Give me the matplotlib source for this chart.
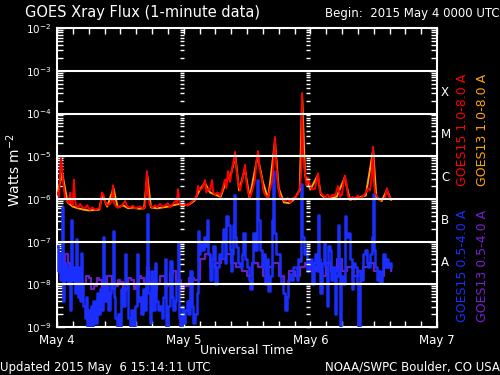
import numpy as np
import matplotlib
matplotlib.use('Agg')
import matplotlib.pyplot as plt
from matplotlib.ticker import FixedLocator, NullFormatter

# time in hours from 2015 May 4 00:00 UTC, flux as log10(W m^-2)
goes15_long_hours = [0.0, 0.4, 0.6, 0.76, 0.95, 1.14, 1.35, 1.52, 1.9, 2.3, 2.5, 2.7, 3.0, 3.2, 3.4, 3.6,
                     4.0, 4.4, 4.8, 5.3, 5.7, 6.2, 6.7, 7.2, 7.7, 8.15, 8.5, 8.8, 9.1, 9.5, 10.0, 10.4,
                     10.6, 10.8, 11.2, 11.9, 12.5, 12.9, 13.3, 13.8, 14.4, 14.8, 15.3, 15.7, 16.2, 16.7,
                     16.9, 17.05, 17.25, 17.6, 18.1, 18.6, 19.0, 19.5, 20.0, 20.5, 21.0, 21.4, 21.9, 22.36,
                     22.7, 22.93, 23.1, 23.3, 23.8, 24.25, 24.7, 25.2, 25.7, 26.15, 26.5, 26.72, 27.1, 27.5,
                     28.04, 28.3, 28.7, 29.0, 29.37, 29.6, 29.94, 30.4, 30.9, 31.3, 31.83, 32.1, 32.4, 32.8,
                     33.16, 33.5, 33.73, 34.0, 34.3, 34.68, 35.2, 35.62, 35.9, 36.2, 36.57, 37.0, 37.5, 37.8,
                     38.1, 38.4, 38.85, 39.1, 39.4, 39.98, 40.3, 40.74, 41.0, 41.3, 41.5, 41.88, 42.26, 42.7,
                     43.2, 43.7, 44.15, 44.6, 45.1, 45.6, 46.05, 46.3, 46.43, 46.6, 47.0, 47.3, 47.56, 48.0,
                     48.3, 48.9, 49.2, 49.46, 49.84, 50.3, 50.8, 51.3, 51.73, 52.2, 52.68, 53.25, 53.63, 54.0,
                     54.3, 54.57, 54.9, 55.14, 55.52, 56.0, 56.47, 57.0, 57.4, 57.9, 58.36, 58.9, 59.3, 59.6,
                     59.88, 60.05, 60.26, 60.7, 61.2, 61.7, 62.15, 62.5, 62.8, 63.1, 63.3]
goes15_long = [-5.85, -5.95, -5.3, -5.05, -5.3, -5.6, -5.8, -5.97, -6.05, -6.1, -5.85, -6.1, -6.15, -5.55, -6.0, -6.15,
               -6.2, -6.12, -6.2, -6.22, -6.15, -6.25, -6.2, -6.25, -6.23, -6.22, -5.85, -5.9, -6.05, -6.15, -6.12, -6.05,
               -5.68, -6.1, -6.18, -6.2, -6.12, -6.05, -6.18, -6.2, -6.16, -6.22, -6.2, -6.18, -6.22, -6.2,
               -5.6, -5.35, -5.9, -6.15, -6.2, -6.15, -6.2, -6.12, -6.18, -6.15, -6.1, -6.2, -6.12, -6.05,
               -6.1, -5.77, -6.0, -6.12, -6.15, -6.12, -6.16, -6.1, -6.05, -6.0, -5.9, -5.7, -5.8, -5.75,
               -5.56, -5.85, -5.75, -5.8, -5.56, -5.85, -5.9, -5.85, -5.93, -5.8, -5.55, -5.75, -5.35, -5.6,
               -5.3, -5.1, -4.9, -5.3, -5.6, -5.8, -5.5, -5.2, -5.6, -5.85, -5.96, -5.8, -5.55, -5.1,
               -4.88, -5.3, -5.56, -5.8, -5.9, -5.97, -5.8, -5.6, -5.2, -4.55, -5.1, -5.7, -5.95, -6.0,
               -6.05, -5.98, -6.08, -6.0, -5.95, -5.9, -5.72, -5.3, -3.52, -4.9, -5.4, -5.7, -5.5, -5.72,
               -5.78, -5.75, -5.55, -5.4, -5.85, -5.9, -5.96, -5.9, -5.98, -5.9, -5.92, -5.7, -5.95, -5.9,
               -5.6, -5.45, -5.7, -5.93, -6.0, -5.95, -6.02, -5.92, -5.98, -5.95, -5.88, -5.75, -5.8, -5.5,
               -4.78, -5.6, -5.87, -5.95, -6.03, -6.0, -5.98, -5.75, -5.9, -5.98, -6.0]

goes13_long_hours = [0, 1, 2, 3, 4, 5, 6, 7, 8, 8.6, 9.5, 10.7, 11.5, 12.5, 13.5, 14.5, 15.5, 16.5, 17.1,
                     17.8, 19, 20, 21, 22, 23, 24, 25, 26, 27, 28, 29, 30, 31, 32, 33, 33.8, 34.5, 35.6,
                     36.5, 38, 39, 40, 41.3, 42, 43, 44, 45, 46, 46.45, 47, 48, 49.4, 50, 51, 52, 53,
                     54.5, 55.5, 57, 58.5, 59.9, 60.5, 61.5, 62.5, 63.3]
goes13_long = [-5.9, -5.4, -6.08, -6.18, -6.22, -6.25, -6.27, -6.26, -6.25, -5.9, -6.18, -5.75, -6.2, -6.15,
               -6.22, -6.2, -6.23, -6.22, -5.45, -6.2, -6.22, -6.2, -6.18, -6.15, -6.12, -6.15, -6.13, -6.05,
               -5.8, -5.62, -5.85, -5.9, -5.95, -5.6, -5.4, -5.0, -5.8, -5.3, -5.98, -5.0, -5.6, -6.0, -4.65,
               -5.75, -6.08, -6.1, -6.0, -5.78, -3.6, -5.45, -5.78, -5.45, -5.9, -6.0, -5.98, -5.95, -5.5,
               -6.02, -5.97, -5.92, -4.85, -5.95, -6.05, -5.8, -6.02]

goes15_short_hours = [0.0, 0.2, 0.4, 0.57, 0.76, 0.95, 1.1, 1.3, 1.52, 1.7, 1.9, 2.1, 2.3, 2.46, 2.7, 2.9,
                      3.05, 3.22, 3.4, 3.6, 3.8, 4.0, 4.2, 4.4, 4.6, 4.8, 5.0, 5.3, 5.5, 5.7, 5.9, 6.25,
                      6.5, 6.7, 6.9, 7.2, 7.5, 7.8, 8.15, 8.4, 8.72, 8.9, 9.1, 9.4, 9.7, 10.04, 10.3, 10.6,
                      10.8, 11.0, 11.3, 11.6, 11.94, 12.2, 12.5, 12.9, 13.1, 13.4, 13.8, 14.1, 14.4, 14.8,
                      15.1, 15.4, 15.73, 16.0, 16.3, 16.7, 16.9, 17.05, 17.25, 17.6, 17.9, 18.2, 18.57, 18.8,
                      19.1, 19.5, 19.8, 20.1, 20.46, 20.7, 21.0, 21.4, 21.7, 22.0, 22.36, 22.6, 22.93, 23.1,
                      23.3, 23.6, 23.9, 24.25, 24.6, 24.9, 25.2, 25.5, 25.8, 26.15, 26.5, 26.72, 26.9, 27.1,
                      27.5, 27.8, 28.04, 28.4, 28.7, 29.0, 29.37, 29.6, 29.94, 30.3, 30.6, 30.9, 31.2, 31.5,
                      31.83, 32.1, 32.4, 32.7, 32.9, 33.16, 33.4, 33.6, 33.8, 34.0, 34.3, 34.68, 35.0, 35.3,
                      35.62, 36.0, 36.3, 36.57, 36.9, 37.2, 37.5, 37.8, 38.1, 38.4, 38.85, 39.1, 39.4, 39.7,
                      39.98, 40.3, 40.74, 40.95, 41.2, 41.5, 41.88, 42.2, 42.5, 42.8, 43.2, 43.5, 43.8, 44.15,
                      44.5, 44.8, 45.1, 45.4, 45.7, 46.05, 46.3, 46.5, 46.8, 47.0, 47.3, 47.56, 47.9, 48.3,
                      48.6, 48.9, 49.2, 49.46, 49.7, 49.84, 50.2, 50.5, 50.8, 51.1, 51.4, 51.73, 52.0, 52.3,
                      52.68, 52.9, 53.25, 53.4, 53.63, 53.9, 54.2, 54.57, 54.8, 55.14, 55.5, 55.8, 56.1, 56.47,
                      56.8, 57.0, 57.4, 57.7, 58.0, 58.36, 58.7, 59.0, 59.3, 59.6, 59.88, 60.05, 60.26, 60.6,
                      60.9, 61.2, 61.5, 61.8, 62.15, 62.5, 62.8, 63.1, 63.3]
goes15_short = [-7.1, -7.7, -7.3, -7.9, -7.4, -6.2, -8.4, -7.6, -7.9, -7.5, -7.7, -8.0, -7.6, -8.6, -6.5, -7.8,
                -7.9, -7.6, -8.2, -6.95, -8.1, -8.3, -7.6, -8.4, -7.26, -8.0, -8.5, -8.8, -8.3, -9.2, -8.6, -9.2,
                -8.5, -9.2, -8.4, -8.9, -8.2, -8.7, -8.1, -8.6, -6.9, -7.8, -8.4, -8.0, -8.6, -8.2, -8.0, -6.75,
                -8.3, -8.8, -9.2, -8.7, -9.2, -8.1, -8.5, -7.3, -8.0, -8.8, -9.2, -8.6, -9.2, -8.5,
                -7.3, -8.4, -8.3, -8.7, -8.1, -8.6, -7.8, -6.35, -8.2, -8.9, -7.7, -8.6, -7.5, -8.4,
                -8.6, -8.5, -8.8, -8.3, -7.4, -9.2, -8.5, -7.45, -8.3, -8.6, -8.4, -7.9, -7.0, -8.8,
                -9.2, -8.5, -8.9, -8.6, -8.4, -8.7, -7.7, -8.5, -8.9, -8.7, -8.2, -6.75, -7.3, -7.05,
                -7.2, -6.9, -7.1, -6.5, -7.3, -7.9, -7.4, -7.1, -8.0, -7.6, -7.3, -7.38, -7.0, -6.7,
                -7.5, -6.4, -6.6, -7.2, -7.7, -7.3, -6.6, -5.9, -6.9, -7.13, -7.5, -7.6, -7.3, -6.8,
                -7.4, -7.6, -7.9, -8.1, -7.5, -6.8, -7.2, -5.55, -6.5, -7.2, -7.6, -7.3, -8.0, -7.4,
                -8.15, -7.8, -6.5, -5.35, -6.8, -7.3, -7.3, -7.8, -7.96, -8.2, -8.6, -8.3, -7.9, -7.75,
                -7.9, -7.6, -7.6, -7.9, -7.4, -7.45, -5.65, -6.9, -7.3, -7.2, -7.7, -7.6, -7.4, -8.0,
                -7.5, -7.3, -7.7, -6.37, -7.4, -8.2, -7.5, -7.0, -7.6, -8.5, -7.1, -7.2, -7.9, -7.6,
                -8.7, -7.8, -6.6, -7.4, -9.2, -7.8, -8.0, -6.4, -6.9, -6.8, -7.4, -8.1, -7.5, -7.6,
                -8.0, -9.2, -7.7, -7.9, -7.3, -7.2, -7.5, -7.6, -7.3, -6.9, -5.88, -7.2, -7.6, -7.9,
                -7.7, -7.96, -7.7, -7.3, -7.6, -7.4, -7.6, -7.5, -7.6]

goes13_short_hours = [0, 0.5, 1, 1.5, 2, 2.5, 3, 3.5, 4, 4.5, 5, 5.5, 6, 6.5, 7, 7.5, 8, 8.5, 9, 9.5, 10, 10.5,
                      11, 11.5, 12, 12.5, 13, 13.5, 14, 14.5, 15, 15.5, 16, 16.5, 17, 17.5, 18, 18.5, 19, 19.5,
                      20, 20.5, 21, 21.5, 22, 22.5, 23, 23.5, 24, 25, 26, 27, 28, 29, 30, 31, 32, 33, 34, 35,
                      36, 37, 38, 39, 40, 41, 42, 43, 44, 45, 46, 47, 48, 49, 50, 51, 52, 53, 54, 55, 56, 57,
                      58, 59, 60, 61, 62, 63.3]
goes13_short = [-7.4, -7.7, -7.6, -7.3, -7.5, -7.8, -7.7, -7.95, -7.9, -8.05, -8.0, -7.8, -7.85, -8.1, -8.05, -7.85,
                -7.9, -8.1, -8.0, -7.8, -7.8, -8.1, -8.05, -7.9, -7.95, -8.15, -8.1, -7.85, -7.9, -8.1, -8.05, -7.8,
                -7.85, -8.0, -7.6, -7.95, -7.9, -8.1, -8.0, -7.8, -7.8, -8.05, -8.0, -7.75, -7.7, -8.0, -7.9, -8.1,
                -8.05, -7.85, -7.9, -7.4, -7.3, -7.6, -7.5, -7.4, -7.3, -7.5, -7.6, -7.7, -7.8, -7.5, -7.6, -7.8,
                -7.6, -7.5, -7.8, -8.0, -7.7, -7.8, -7.6, -7.5, -7.7, -7.6, -7.8, -7.5, -7.7, -7.4, -7.7, -7.6,
                -7.8, -7.7, -7.6, -7.5, -7.7, -7.8, -7.6, -7.7]

day_labels = ['May 4', 'May 5', 'May 6', 'May 7']
flare_classes = ['X', 'M', 'C', 'B', 'A']
legend_top = [('GOES15 1.0-8.0 A', 'red'), ('GOES13 1.0-8.0 A', 'orange')]
legend_bottom = [('GOES15 0.5-4.0 A', '#1a2fff'), ('GOES13 0.5-4.0 A', '#7a1fd6')]

fig = plt.figure(figsize=(5, 3.75), dpi=100, facecolor='black')
ax = fig.add_axes([0.114, 0.128, 0.76, 0.797], facecolor='black')

ax.plot(goes13_short_hours, 10 ** np.array(goes13_short), color='#6a1fc0', lw=1.6,
        drawstyle='steps-post', zorder=2)
ax.plot(goes15_short_hours, 10 ** np.array(goes15_short), color='#1a2fff', lw=1.8,
        drawstyle='steps-post', zorder=3)
ax.plot(goes13_long_hours, 10 ** np.array(goes13_long), color='orange', lw=1.4, zorder=4)
ax.plot(goes15_long_hours, 10 ** np.array(goes15_long), color='red', lw=1.4, zorder=5)

ax.set_yscale('log')
ax.set_ylim(1e-9, 1e-2)
ax.set_xlim(0, 72)

# horizontal grid lines at inner decades
for p in range(-8, -2):
    ax.axhline(10.0 ** p, color='white', lw=1.5, zorder=6)

decades = [10.0 ** p for p in range(-9, -1)]
minors = [m * 10.0 ** p for p in range(-9, -2) for m in range(2, 10)]
ax.yaxis.set_major_locator(FixedLocator(decades))
ax.yaxis.set_minor_locator(FixedLocator(minors))
ax.set_yticklabels([r'$10^{%d}$' % p for p in range(-9, -1)])
ax.yaxis.set_minor_formatter(NullFormatter())

ax.xaxis.set_major_locator(FixedLocator([0, 24, 48, 72]))
ax.xaxis.set_minor_locator(FixedLocator(np.arange(0, 73, 3)))
ax.set_xticklabels(day_labels)

ax.tick_params(which='both', direction='in', colors='white', labelcolor='white',
               top=True, right=True)
ax.tick_params(which='major', length=6, width=1)
ax.tick_params(which='minor', length=4, width=1)
ax.tick_params(axis='x', which='both', length=4, labelsize=8.5, pad=5)
ax.tick_params(axis='y', which='major', pad=4, labelsize=7.5)
for s in ax.spines.values():
    s.set_color('white')
    s.set_linewidth(1.5)

# tick columns at day boundaries
for d in [24, 48]:
    ax.plot(np.full(len(minors) + len(decades), d - 0.35), minors + decades, ls='none', marker='_',
            ms=3.5, mew=1, color='white', zorder=6, clip_on=False)

# flare class letters on the right
for i, c in enumerate(flare_classes):
    fig.text(441 / 500, 1 - (92 + 42.7 * i) / 375, c, color='white', fontsize=8.5, va='center', ha='left')

fig.text(25 / 500, 1 - 13 / 375, 'GOES Xray Flux (1-minute data)', color='white', fontsize=10.5, va='center')
fig.text(1.0, 1 - 13 / 375, 'Begin:  2015 May 4 0000 UTC', color='white', fontsize=8.5, va='center', ha='right')
fig.text(14 / 500, 1 - 170 / 375, 'Watts m$^{-2}$', color='white', fontsize=10, rotation=90,
         va='center', ha='center')
fig.text(247 / 500, 1 - 351 / 375, 'Universal Time', color='white', fontsize=9, va='center', ha='center')
fig.text(0.0, 1 - 367 / 375, 'Updated 2015 May  6 15:14:11 UTC', color='white', fontsize=8.5, va='center')
fig.text(1.0, 1 - 367 / 375, 'NOAA/SWPC Boulder, CO USA', color='white', fontsize=8.5, va='center', ha='right')

for (txt, col), x in zip(legend_top, [462, 482]):
    fig.text(x / 500, 1 - 130 / 375, txt, color=col, fontsize=9, rotation=90, va='center', ha='center')
for (txt, col), x in zip(legend_bottom, [462, 482]):
    fig.text(x / 500, 1 - 266 / 375, txt, color=col, fontsize=9, rotation=90, va='center', ha='center')

fig.savefig('out.png', dpi=100, facecolor='black')
